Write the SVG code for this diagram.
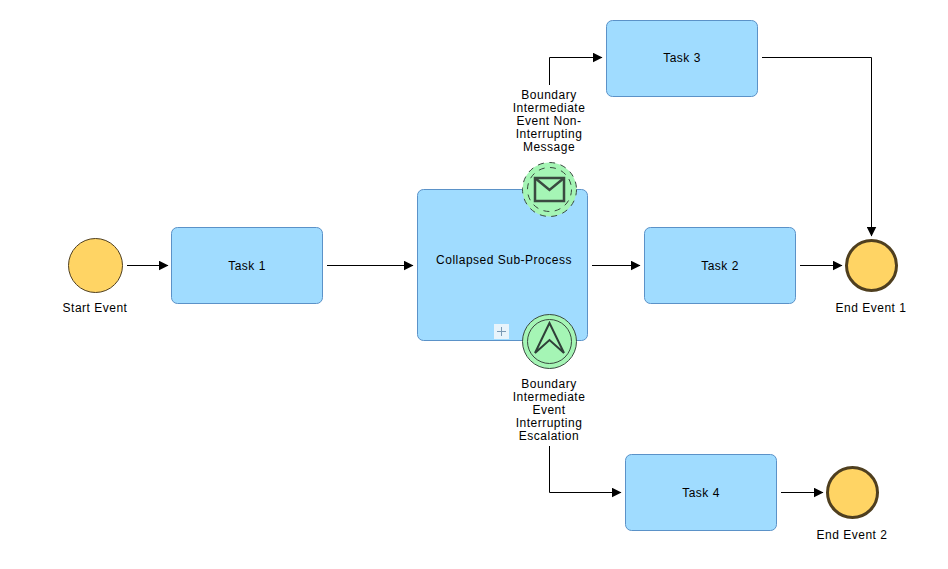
<svg xmlns="http://www.w3.org/2000/svg" width="948" height="569" viewBox="0 0 948 569">
<defs>
<marker id="arrow" markerUnits="userSpaceOnUse" markerWidth="10" markerHeight="10" refX="9.500" refY="5" orient="auto"><path d="M0 0L10 5L0 10Z" fill="#000"/></marker>
</defs>
<style>
text{font-family:"Liberation Sans",Arial,sans-serif;font-size:12px;letter-spacing:.5px;fill:#000;text-anchor:middle}
.task{fill:#a0dcff;stroke:#5b92c8;stroke-width:1}
.ev{fill:#ffd464;stroke:#4f3f1f;stroke-width:1}
.end{fill:#ffd464;stroke:#4f3f1f;stroke-width:3}
.bnd{fill:#a5f5b5;stroke:#3a4a40;stroke-width:1}
.sym{fill:none;stroke:#3a4a40;stroke-width:2.500}
.esc{fill:none;stroke:#2f4038;stroke-width:2}
.c{fill:none;stroke:#000;stroke-width:1;marker-end:url(#arrow)}
</style>
<rect width="948" height="569" fill="#fff"/>
<g id="connectors">
<path class="c" d="M127 265.500H168"/>
<path class="c" d="M327 265.500H413"/>
<path class="c" d="M592 265.500H640"/>
<path class="c" d="M800 265.500H842"/>
<path class="c" d="M549.500 85V57.500H602"/>
<path class="c" d="M762 57.500H871.500V236"/>
<path class="c" d="M549.500 446V492.500H621"/>
<path class="c" d="M781 492.500H823"/>
</g>
<g id="start"><circle class="ev" cx="95.500" cy="265.500" r="27"/><text x="95" y="312">Start Event</text></g>
<g id="task1"><rect class="task" x="171.500" y="227.500" width="151" height="76" rx="6"/><text x="247" y="270">Task 1</text></g>
<g id="sub"><rect class="task" x="417.500" y="189.500" width="170" height="151" rx="6"/><text x="504" y="264">Collapsed Sub-Process</text>
<rect x="494" y="324" width="15" height="15" fill="#e8f4fb"/><path d="M497 331.500H506M501.500 327V336" stroke="#7a9ab5" fill="none"/></g>
<g id="task2"><rect class="task" x="644.500" y="227.500" width="151" height="76" rx="6"/><text x="720" y="270">Task 2</text></g>
<g id="task3"><rect class="task" x="606.500" y="20.500" width="151" height="76" rx="6"/><text x="682" y="62">Task 3</text></g>
<g id="task4"><rect class="task" x="625.500" y="454.500" width="151" height="76" rx="6"/><text x="701" y="497">Task 4</text></g>
<g id="end1"><circle class="end" cx="871.500" cy="265.500" r="25"/><text x="871" y="312">End Event 1</text></g>
<g id="end2"><circle class="end" cx="852.500" cy="492.500" r="25"/><text x="852" y="539">End Event 2</text></g>
<g id="boundary-message"><circle cx="549.500" cy="189.500" r="27" fill="#a5f5b5" stroke="#3a4a40" stroke-dasharray="6 5.500"/><circle cx="549.500" cy="189.500" r="22" fill="none" stroke="#3a4a40" stroke-dasharray="6 5.500"/>
<rect class="sym" x="535" y="178" width="29" height="23"/><path class="sym" d="M535 178L549.500 190L564 178"/>
<text x="549" y="99">Boundary</text><text x="549" y="112">Intermediate</text><text x="549" y="125">Event Non-</text><text x="549" y="138">Interrupting</text><text x="549" y="151">Message</text></g>
<g id="boundary-escalation"><circle class="bnd" cx="549.500" cy="341.500" r="27"/><circle class="bnd" cx="549.500" cy="341.500" r="22"/>
<path class="esc" d="M549.500 323L535 353L549.500 340L564 353Z"/>
<text x="549" y="388">Boundary</text><text x="549" y="401">Intermediate</text><text x="549" y="414">Event</text><text x="549" y="427">Interrupting</text><text x="549" y="440">Escalation</text></g>
</svg>
